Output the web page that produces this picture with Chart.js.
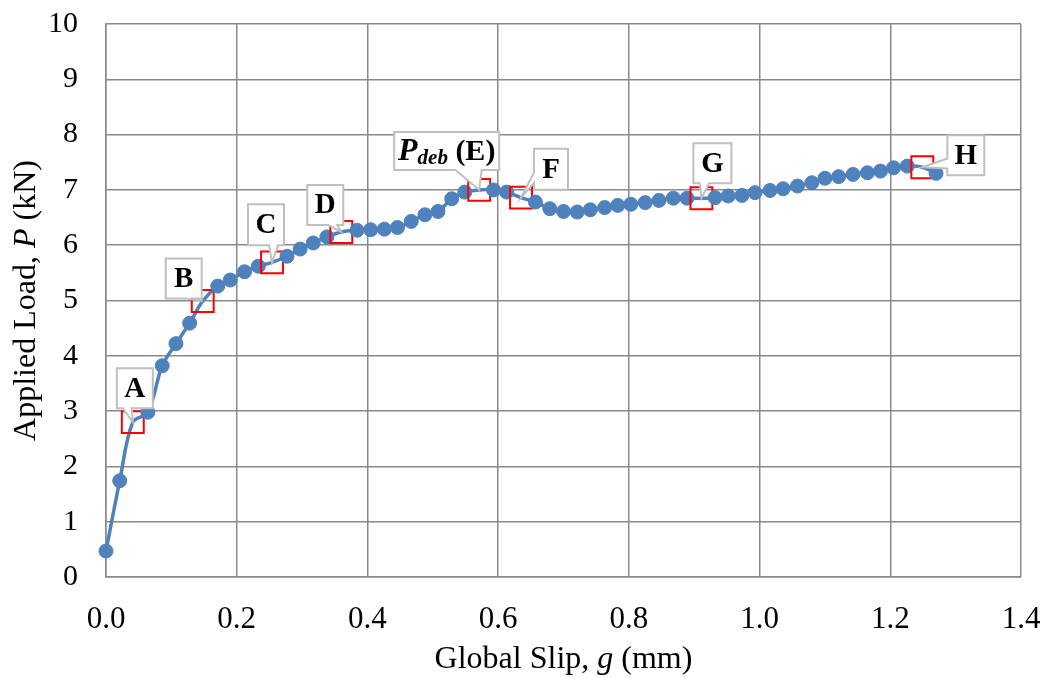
<!DOCTYPE html>
<html>
<head>
<meta charset="utf-8">
<script src="https://cdn.jsdelivr.net/npm/chart.js@4.4.1/dist/chart.umd.min.js"></script>
<style>
  html, body { margin: 0; padding: 0; background: #ffffff; }
  #wrap { width: 1045px; height: 677px; position: relative; }
</style>
</head>
<body>
<div id="wrap"><canvas id="c" width="1045" height="677"></canvas></div>
<script>
// ---- data ----
const slip = [0.000,0.021,0.041,0.064,0.086,0.107,0.128,0.148,0.171,0.190,0.212,0.233,0.254,0.277,0.297,0.317,0.338,0.360,0.384,0.405,0.426,0.446,0.467,0.488,0.508,0.529,0.549,0.571,0.593,0.613,0.635,0.657,0.679,0.700,0.721,0.741,0.763,0.783,0.803,0.825,0.846,0.868,0.889,0.911,0.932,0.952,0.973,0.993,1.016,1.036,1.058,1.080,1.100,1.121,1.143,1.165,1.185,1.205,1.226,1.249,1.270];
const load = [0.47,1.74,2.80,2.98,3.82,4.22,4.59,4.99,5.26,5.37,5.52,5.62,5.69,5.80,5.93,6.04,6.15,6.24,6.27,6.28,6.29,6.32,6.43,6.55,6.61,6.84,6.96,7.00,7.00,6.96,6.86,6.78,6.66,6.61,6.60,6.64,6.68,6.72,6.74,6.77,6.81,6.85,6.85,6.85,6.86,6.89,6.90,6.95,6.99,7.02,7.07,7.13,7.21,7.24,7.28,7.31,7.34,7.40,7.43,7.41,7.30];
const stageNames = ['A','B','C','D','E','F','G','H'];
const stageIndex = [2,7,12,17,27,30,43,59];
const xTicks = [0.0,0.2,0.4,0.6,0.8,1.0,1.2,1.4];
const yTicks = [0,1,2,3,4,5,6,7,8,9,10];
const xTitle = ['Global Slip, ', 'g', ' (mm)'];
const yTitle = ['Applied Load, ', 'P', ' (kN)'];

// ---- styling (not data) ----
const SERIF = '"Liberation Serif", "Times New Roman", serif';
const BLUE = '#4f81bd';
const GRID = '#898989';
const calloutStyle = {
  A: { dx: 2,     dy: -34,   w: 36,  h: 40 },
  B: { dx: -19,   dy: -22.5, w: 36,  h: 40 },
  C: { dx: -6,    dy: -37.5, w: 36,  h: 41 },
  D: { dx: -16,   dy: -27,   w: 36,  h: 40 },
  E: { dx: -32.5, dy: -39,   w: 105, h: 38 },
  F: { dx: 30,    dy: -28.5, w: 34,  h: 41 },
  G: { dx: 11,    dy: -35,   w: 38,  h: 40 },
  H: { dx: 43.5,  dy: -12,   w: 37,  h: 40 }
};

const points = slip.map((x, i) => ({ x: x, y: load[i] }));
const isStage = i => stageIndex.indexOf(i) >= 0;

function drawSegments(ctx, segs, cx, cy) {
  let total = 0;
  segs.forEach(s => { ctx.font = s.font; s.w = ctx.measureText(s.t).width; total += s.w; });
  let x = cx - total / 2;
  ctx.textBaseline = 'middle';
  ctx.textAlign = 'left';
  segs.forEach(s => {
    ctx.font = s.font;
    ctx.fillText(s.t, x, cy + (s.dy || 0));
    x += s.w;
  });
}

function calloutPath(ctx, l, t, w, h, xPos, yPos) {
  const r = l + w, b = t + h, hc = l + w / 2, vc = t + h / 2;
  const dxPos = xPos - hc, dyPos = yPos - vc;
  const dq = dxPos * h / w;
  const dz = Math.abs(dyPos) - Math.abs(dq);
  const xg1 = dxPos > 0 ? 7 : 2, xg2 = dxPos > 0 ? 10 : 5;
  const x1 = l + w * xg1 / 12, x2 = l + w * xg2 / 12;
  const yg1 = dyPos > 0 ? 7 : 2, yg2 = dyPos > 0 ? 10 : 5;
  const y1 = t + h * yg1 / 12, y2 = t + h * yg2 / 12;
  const xl = dz > 0 ? l : (dxPos > 0 ? l : xPos);
  const xt = dz > 0 ? (dyPos > 0 ? x1 : xPos) : x1;
  const xr = dz > 0 ? r : (dxPos > 0 ? xPos : r);
  const xb = dz > 0 ? (dyPos > 0 ? xPos : x1) : x1;
  const yl = dz > 0 ? y1 : (dxPos > 0 ? y1 : yPos);
  const yt = dz > 0 ? (dyPos > 0 ? t : yPos) : t;
  const yr = dz > 0 ? y1 : (dxPos > 0 ? yPos : y1);
  const yb = dz > 0 ? (dyPos > 0 ? yPos : b) : b;
  ctx.beginPath();
  ctx.moveTo(l, t); ctx.lineTo(x1, t); ctx.lineTo(xt, yt); ctx.lineTo(x2, t); ctx.lineTo(r, t);
  ctx.lineTo(r, y1); ctx.lineTo(xr, yr); ctx.lineTo(r, y2); ctx.lineTo(r, b);
  ctx.lineTo(x2, b); ctx.lineTo(xb, yb); ctx.lineTo(x1, b); ctx.lineTo(l, b);
  ctx.lineTo(l, y2); ctx.lineTo(xl, yl); ctx.lineTo(l, y1); ctx.closePath();
}

const calloutPlugin = {
  id: 'callouts',
  afterDatasetsDraw(chart) {
    const ctx = chart.ctx, xs = chart.scales.x, ys = chart.scales.y;
    ctx.save();
    stageIndex.forEach((idx, k) => {
      const name = stageNames[k];
      const st = calloutStyle[name];
      const px = xs.getPixelForValue(slip[idx]);
      const py = ys.getPixelForValue(load[idx]);
      const cx = px + st.dx, cy = py + st.dy;
      const l = cx - st.w / 2, t = cy - st.h / 2;
      calloutPath(ctx, l, t, st.w, st.h, px, py);
      ctx.fillStyle = '#ffffff';
      ctx.fill();
      ctx.strokeStyle = '#bfbfbf';
      ctx.lineWidth = 2;
      ctx.lineJoin = 'miter';
      ctx.stroke();
      ctx.fillStyle = '#000000';
      let segs;
      if (name === 'E') {
        segs = [
          { t: 'P', font: 'italic bold 32px ' + SERIF },
          { t: 'deb', font: 'italic bold 21px ' + SERIF, dy: 7 },
          { t: ' (E)', font: 'bold 30px ' + SERIF }
        ];
      } else {
        segs = [{ t: name, font: 'bold 29px ' + SERIF }];
      }
      drawSegments(ctx, segs, cx, cy + 1);
    });
    ctx.restore();
  },
  afterDraw(chart) {
    const ctx = chart.ctx, a = chart.chartArea;
    ctx.save();
    ctx.fillStyle = '#000000';
    const mk = parts => parts.map((p, i) => ({ t: p, font: (i === 1 ? 'italic ' : '') + '32px ' + SERIF }));
    drawSegments(ctx, mk(xTitle), (a.left + a.right) / 2, 660);
    ctx.translate(27, (a.top + a.bottom) / 2);
    ctx.rotate(-Math.PI / 2);
    drawSegments(ctx, mk(yTitle), 0, 0);
    ctx.restore();
  }
};

function noPad(s) {
  s.paddingTop = 0; s.paddingBottom = 0; s.paddingLeft = 0; s.paddingRight = 0;
}

new Chart(document.getElementById('c'), {
  type: 'line',
  data: {
    datasets: [{
      data: points,
      clip: false,
      borderColor: BLUE,
      borderWidth: 3.5,
      tension: 0.35,
      fill: false,
      pointStyle: ctx => isStage(ctx.dataIndex) ? 'rect' : 'circle',
      pointRadius: ctx => isStage(ctx.dataIndex) ? 15.5 : 7,
      pointBackgroundColor: ctx => isStage(ctx.dataIndex) ? 'rgba(0,0,0,0)' : BLUE,
      pointBorderColor: ctx => isStage(ctx.dataIndex) ? '#ff0000' : BLUE,
      pointBorderWidth: ctx => isStage(ctx.dataIndex) ? 2 : 1,
      pointHoverRadius: ctx => isStage(ctx.dataIndex) ? 15.5 : 7
    }]
  },
  options: {
    responsive: false,
    animation: false,
    events: [],
    layout: { padding: { left: 0, right: 24, top: 24, bottom: 0 } },
    plugins: { legend: { display: false }, tooltip: { enabled: false } },
    scales: {
      x: {
        type: 'linear',
        min: xTicks[0], max: xTicks[xTicks.length - 1],
        afterBuildTicks: s => { s.ticks = xTicks.map(v => ({ value: v })); },
        afterFit: s => { s.height = 100; noPad(s); },
        grid: { color: GRID, lineWidth: 1.5, drawTicks: false },
        border: { color: GRID, width: 1.5 },
        ticks: { color: '#000', padding: 24, font: { family: SERIF, size: 31 }, callback: v => Number(v).toFixed(1) }
      },
      y: {
        type: 'linear',
        min: yTicks[0], max: yTicks[yTicks.length - 1],
        afterBuildTicks: s => { s.ticks = yTicks.map(v => ({ value: v })); },
        afterFit: s => { s.width = 106; noPad(s); },
        grid: { color: GRID, lineWidth: 1.5, drawTicks: false },
        border: { color: GRID, width: 1.5 },
        ticks: { color: '#000', padding: 28, font: { family: SERIF, size: 30 }, callback: v => String(v) }
      }
    }
  },
  plugins: [calloutPlugin]
});
</script>
</body>
</html>
